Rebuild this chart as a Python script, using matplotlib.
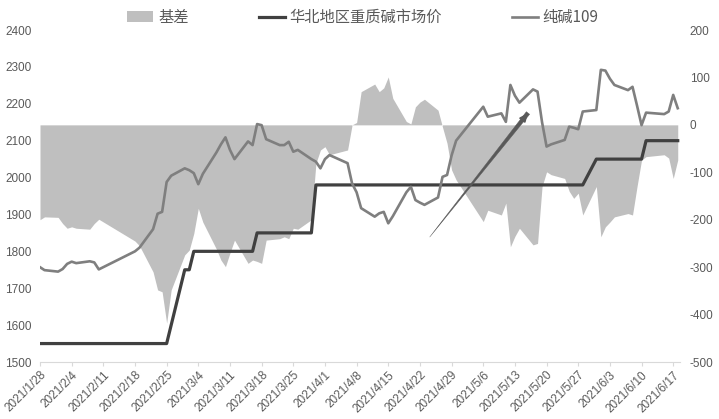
import matplotlib
matplotlib.use("Agg")
import matplotlib.pyplot as plt
from matplotlib.patches import Patch
from matplotlib.lines import Line2D
import pandas as pd

plt.rcParams['font.family'] = ['Noto Sans CJK SC', 'DejaVu Sans']
plt.rcParams['axes.unicode_minus'] = False

# 纯碱109 futures (left axis)
fut_dates = ['2021/1/28', '2021/1/29', '2021/2/1', '2021/2/2', '2021/2/3', '2021/2/4', '2021/2/5',
             '2021/2/8', '2021/2/9', '2021/2/10', '2021/2/18', '2021/2/19', '2021/2/22', '2021/2/23',
             '2021/2/24', '2021/2/25', '2021/2/26', '2021/3/1', '2021/3/2', '2021/3/3', '2021/3/4',
             '2021/3/5', '2021/3/8', '2021/3/9', '2021/3/10', '2021/3/11', '2021/3/12', '2021/3/15',
             '2021/3/16', '2021/3/17', '2021/3/18', '2021/3/19', '2021/3/22', '2021/3/23', '2021/3/24',
             '2021/3/25', '2021/3/26', '2021/3/29', '2021/3/30', '2021/3/31', '2021/4/1', '2021/4/2',
             '2021/4/6', '2021/4/7', '2021/4/8', '2021/4/9', '2021/4/12', '2021/4/13', '2021/4/14',
             '2021/4/15', '2021/4/16', '2021/4/19', '2021/4/20', '2021/4/21', '2021/4/22', '2021/4/23',
             '2021/4/26', '2021/4/27', '2021/4/28', '2021/4/29', '2021/4/30', '2021/5/6', '2021/5/7',
             '2021/5/10', '2021/5/11', '2021/5/12', '2021/5/13', '2021/5/14', '2021/5/17', '2021/5/18',
             '2021/5/19', '2021/5/20', '2021/5/21', '2021/5/24', '2021/5/25', '2021/5/26', '2021/5/27',
             '2021/5/28', '2021/5/31', '2021/6/1', '2021/6/2', '2021/6/3', '2021/6/4', '2021/6/7',
             '2021/6/8', '2021/6/9', '2021/6/10', '2021/6/11', '2021/6/15', '2021/6/16', '2021/6/17',
             '2021/6/18']
fut_vals = [1757, 1749, 1745, 1752, 1766, 1772, 1768,
            1773, 1770, 1751, 1800, 1810, 1860, 1902,
            1907, 1988, 2005, 2025, 2020, 2012, 1982,
            2010, 2068, 2090, 2109, 2075, 2050, 2098,
            2088, 2145, 2142, 2104, 2088, 2088, 2097,
            2070, 2075, 2050, 2043, 2025, 2050, 2061,
            2039, 1984, 1960, 1917, 1894, 1903, 1907,
            1876, 1895, 1960, 1975, 1939, 1932, 1926,
            1946, 2002, 2007, 2060, 2100, 2192, 2165,
            2174, 2151, 2251, 2222, 2203, 2239, 2233,
            2150, 2084, 2090, 2102, 2138, 2135, 2131,
            2179, 2183, 2292, 2290, 2268, 2251, 2237,
            2246, 2195, 2142, 2176, 2172, 2179, 2224,
            2188]

# 华北地区重质碱市场价 (left axis)
spot_dates = ['2021/1/28', '2021/2/25', '2021/3/1', '2021/3/2', '2021/3/3', '2021/3/16', '2021/3/17',
              '2021/3/29', '2021/3/30', '2021/5/28', '2021/5/31', '2021/6/10', '2021/6/11', '2021/6/18']
spot_vals = [1550, 1550, 1750, 1750, 1800, 1800, 1850,
             1850, 1980, 1980, 2050, 2050, 2100, 2100]

# 基差 (right axis)
basis_dates = fut_dates
basis_vals = [-200, -194, -195, -208, -218, -215, -218,
              -220, -208, -199, -245, -255, -310, -348,
              -352, -418, -348, -274, -264, -229, -176,
              -205, -262, -285, -299, -270, -243, -292,
              -285, -288, -292, -243, -240, -236, -240,
              -218, -220, -200, -81, -53, -46, -63,
              -53, 0, 5, 70, 86, 70, 78,
              101, 56, 7, 2, 38, 48, 54,
              31, -5, -39, -95, -116, -204, -180,
              -190, -165, -257, -235, -218, -253, -250,
              -130, -99, -105, -113, -140, -155, -144,
              -190, -130, -236, -215, -205, -194, -187,
              -190, -130, -74, -67, -63, -70, -113,
              -74]

tick_dates = pd.date_range('2021-01-28', '2021-06-17', freq='7D')
tick_labels = [f'{d.year}/{d.month}/{d.day}' for d in tick_dates]

fut_x = pd.to_datetime(fut_dates, format='%Y/%m/%d')
spot_x = pd.to_datetime(spot_dates, format='%Y/%m/%d')
basis_x = pd.to_datetime(basis_dates, format='%Y/%m/%d')

fig = plt.figure(figsize=(7.19, 4.19), dpi=100)
ax = fig.add_axes([40 / 719, 1 - 362 / 419, 640 / 719, 332 / 419])
ax2 = ax.twinx()
ax.set_zorder(ax2.get_zorder() + 1)
ax.patch.set_visible(False)

ax2.fill_between(basis_x, 0, basis_vals, color='#bfbfbf', linewidth=0)
ax.plot(spot_x, spot_vals, color='#404040', lw=2.3)
ax.plot(fut_x, fut_vals, color='#7f7f7f', lw=1.9)

ax.set_ylim(1500, 2400)
ax.set_yticks(range(1500, 2401, 100))
ax2.set_ylim(-500, 200)
ax2.set_yticks(range(-500, 201, 100))
ax.set_xlim(pd.Timestamp('2021-01-28'), pd.Timestamp('2021-06-18 12:00'))
ax.set_xticks(tick_dates)
ax.set_xticklabels(tick_labels, rotation=45, ha='right', rotation_mode='anchor')

for a in (ax, ax2):
    for s in a.spines.values():
        s.set_visible(False)
    a.tick_params(axis='y', length=0, colors='#595959', labelsize=8.5)
    for lab in a.get_yticklabels():
        lab.set_fontfamily('Liberation Sans')
ax.spines['bottom'].set_visible(True)
ax.spines['bottom'].set_color('#d9d9d9')
ax.tick_params(axis='y', pad=6)
ax2.tick_params(axis='y', pad=7)
ax.tick_params(axis='x', length=3, color='#d9d9d9', colors='#595959', labelsize=8.5, pad=2)
for lab in ax.get_xticklabels():
    lab.set_fontfamily('Liberation Sans')

# tapered arrow drawn on the chart
start = (0.609, 0.3765)
end = (0.7625, 0.75)
ax.annotate('', xy=start, xytext=end, xycoords='axes fraction',
            arrowprops=dict(arrowstyle='wedge,tail_width=0.3,shrink_factor=0.5', color='#595959',
                            lw=0.3, shrinkA=0, shrinkB=0))
ax.annotate('', xy=end, xytext=(0.74, 0.695), xycoords='axes fraction',
            arrowprops=dict(arrowstyle='-|>,head_length=0.5,head_width=0.22', color='#595959',
                            lw=1.2, shrinkA=0, shrinkB=0))

handles = [Patch(facecolor='#bfbfbf', edgecolor='none'),
           Line2D([], [], color='#404040', lw=2.3),
           Line2D([], [], color='#7f7f7f', lw=1.9)]
names = ['基差', '华北地区重质碱市场价', '纯碱109']
fig.legend(handles, names, loc='center', bbox_to_anchor=(0.505, 0.958), ncol=3, frameon=False,
           fontsize=11, handlelength=1.7, handletextpad=0.3, columnspacing=4.6,
           labelcolor='#595959')

fig.savefig('out.png', dpi=100)
